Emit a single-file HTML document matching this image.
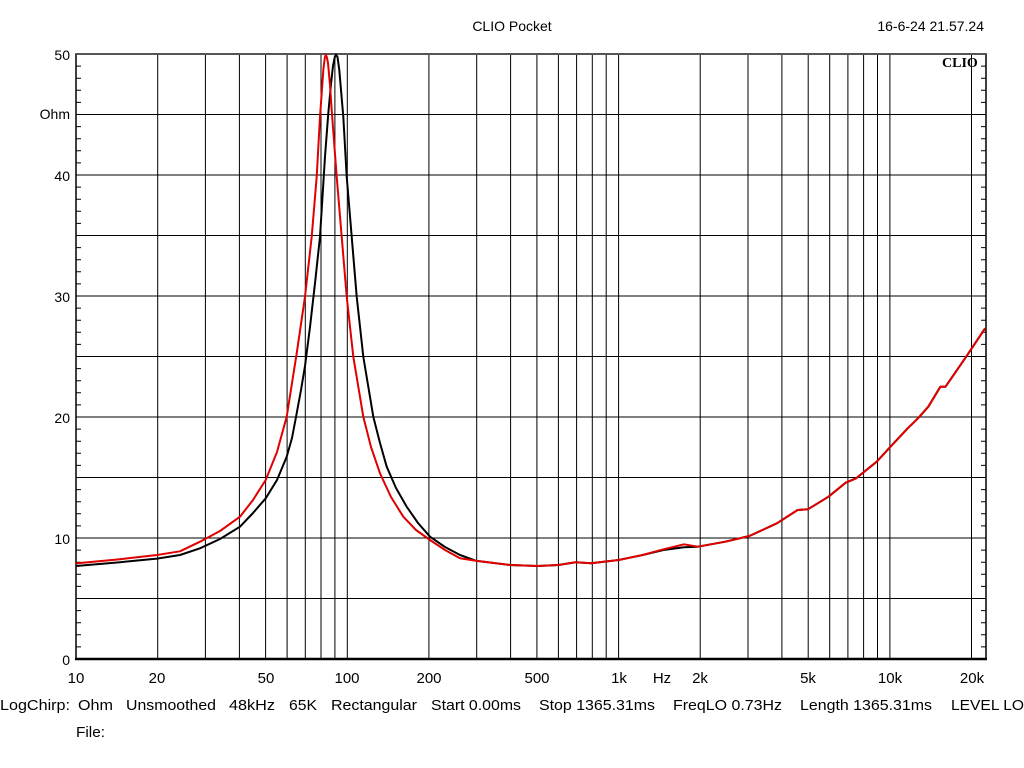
<!DOCTYPE html>
<html><head><meta charset="utf-8"><style>
html,body{margin:0;padding:0;background:#fff;}
svg{display:block;font-family:"Liberation Sans",Arial,sans-serif;}
</style></head><body>
<svg width="1024" height="768" viewBox="0 0 1024 768" xmlns="http://www.w3.org/2000/svg">
<rect width="1024" height="768" fill="#fff"/>
<path stroke="#000" stroke-width="1" fill="none" d="
M157.7,54V659 M205.4,54V659 M239.4,54V659 M265.6,54V659 M287.1,54V659 M305.3,54V659 M321,54V659 M334.9,54V659 M347.3,54V659
M428.9,54V659 M476.7,54V659 M510.6,54V659 M536.9,54V659 M558.4,54V659 M576.6,54V659 M592.3,54V659 M606.2,54V659 M618.6,54V659
M700.2,54V659 M748,54V659 M781.9,54V659 M808.2,54V659 M829.7,54V659 M847.9,54V659 M863.6,54V659 M877.5,54V659 M889.9,54V659
M971.5,54V659
M76,114.5H986 M76,175H986 M76,235.5H986 M76,296H986 M76,356.5H986 M76,417H986 M76,477.5H986 M76,538H986 M76,598.5H986"/>
<line x1="78.5" y1="659.5" x2="78.5" y2="54" stroke="#000" stroke-width="5" stroke-dasharray="1 11.1"/>
<line x1="983.5" y1="659.5" x2="983.5" y2="54" stroke="#000" stroke-width="5" stroke-dasharray="1 11.1"/>
<rect x="76" y="54" width="910" height="605" fill="none" stroke="#000" stroke-width="1.5"/>
<line x1="76" y1="54" x2="986" y2="54" stroke="#555" stroke-width="2"/>
<line x1="75" y1="659" x2="987" y2="659" stroke="#000" stroke-width="2.5"/>
<text x="942" y="67" font-family="Liberation Serif,serif" font-weight="bold" font-size="14">CLIO</text>
<g font-size="14" fill="#000">
<text x="512" y="31" text-anchor="middle">CLIO Pocket</text>
<text x="984" y="31" text-anchor="end">16-6-24 21.57.24</text>
<g text-anchor="end">
<text x="70" y="60">50</text><text x="70" y="119">Ohm</text><text x="70" y="181">40</text>
<text x="70" y="302">30</text><text x="70" y="423">20</text><text x="70" y="544">10</text><text x="70" y="665">0</text>
</g>
<g text-anchor="middle" font-size="15">
<text x="76" y="683">10</text><text x="157" y="683">20</text><text x="266" y="683">50</text>
<text x="347" y="683">100</text><text x="429" y="683">200</text><text x="537" y="683">500</text>
<text x="619" y="683">1k</text><text x="662" y="683">Hz</text><text x="700" y="683">2k</text>
<text x="808" y="683">5k</text><text x="890" y="683">10k</text><text x="972" y="683">20k</text>
</g>
<g font-size="15">
<text x="0" y="710" textLength="70" lengthAdjust="spacingAndGlyphs">LogChirp:</text>
<text x="78" y="710" textLength="35" lengthAdjust="spacingAndGlyphs">Ohm</text>
<text x="126" y="710" textLength="90" lengthAdjust="spacingAndGlyphs">Unsmoothed</text>
<text x="229" y="710" textLength="46" lengthAdjust="spacingAndGlyphs">48kHz</text>
<text x="289" y="710" textLength="28" lengthAdjust="spacingAndGlyphs">65K</text>
<text x="331" y="710" textLength="86" lengthAdjust="spacingAndGlyphs">Rectangular</text>
<text x="431" y="710" textLength="90" lengthAdjust="spacingAndGlyphs">Start 0.00ms</text>
<text x="539" y="710" textLength="116" lengthAdjust="spacingAndGlyphs">Stop 1365.31ms</text>
<text x="673" y="710" textLength="109" lengthAdjust="spacingAndGlyphs">FreqLO 0.73Hz</text>
<text x="800" y="710" textLength="132" lengthAdjust="spacingAndGlyphs">Length 1365.31ms</text>
<text x="951" y="710" textLength="73" lengthAdjust="spacingAndGlyphs">LEVEL LO</text>
<text x="76" y="737" textLength="29" lengthAdjust="spacingAndGlyphs">File:</text>
</g>
</g>
<polyline fill="none" stroke="#000" stroke-width="2" stroke-linejoin="round" points="76,566 120,562.2 157,558.6 180,555 200,548.3 220,539 240,526.7 253,513 265.7,498.3 277,480 286.7,456.7 292,438 296,417 301,390 305,366 310,327 315,283.3 320,236.7 325,156.7 328.3,113.3 331,84 333,66 334.8,57 336,54.5 337.5,57 339.3,70 341,90 343.3,116.7 346.7,176.7 351.7,236.7 356.7,296.7 363.3,356.7 373.3,416.7 380,443 386.7,466.7 396,488 406.7,506.7 418,523 430,536.7 445,547 460,555 475.8,560.7 510.2,565 537.7,566 558.4,565 575.6,562.3 591.1,563.3 618.6,560 642.7,555 663.4,550 684,547.3 697.8,546.7 725.3,541.7 749.4,536 776.9,523.3 797.6,510 807.9,509.3 828.5,496.7 845.7,482.7 856.1,478.3 876.7,461.7 890.5,446.7 907.7,428.3 918,418.3 928.3,406.7 940.4,386.7 945.5,386.7 966.2,356.7 985.1,328.3"/>
<polyline fill="none" stroke="#e00000" stroke-width="2" stroke-linejoin="round" points="76,563.4 120,559.2 157,555 180,551.3 200,541.7 220,531 240,516.7 253,500 265.7,480 277,452 286.7,416.7 296.7,353.3 305,296.7 311.7,236.7 316.7,176.7 320,116.7 321.7,93 323.5,68 324.8,58 325.7,54.5 326.8,57 328,63 330,85 331.7,110 336.7,176.7 341.7,236.7 346.7,296.7 353.3,356.7 363.3,416.7 371,447 380,473.3 391,497 403.3,516.7 416,530 430,540 445,550 460,558.3 475.8,560.7 510.2,565 537.7,566 558.4,565 575.6,562.3 591.1,563.3 618.6,560 642.7,555 663.4,549.3 684,544.3 697.8,546.7 725.3,541.7 749.4,536 776.9,523.3 797.6,510 807.9,509.3 828.5,496.7 845.7,482.7 856.1,478.3 876.7,461.7 890.5,446.7 907.7,428.3 918,418.3 928.3,406.7 940.4,386.7 945.5,386.7 966.2,356.7 985.1,328.3"/>
</svg>
</body></html>
